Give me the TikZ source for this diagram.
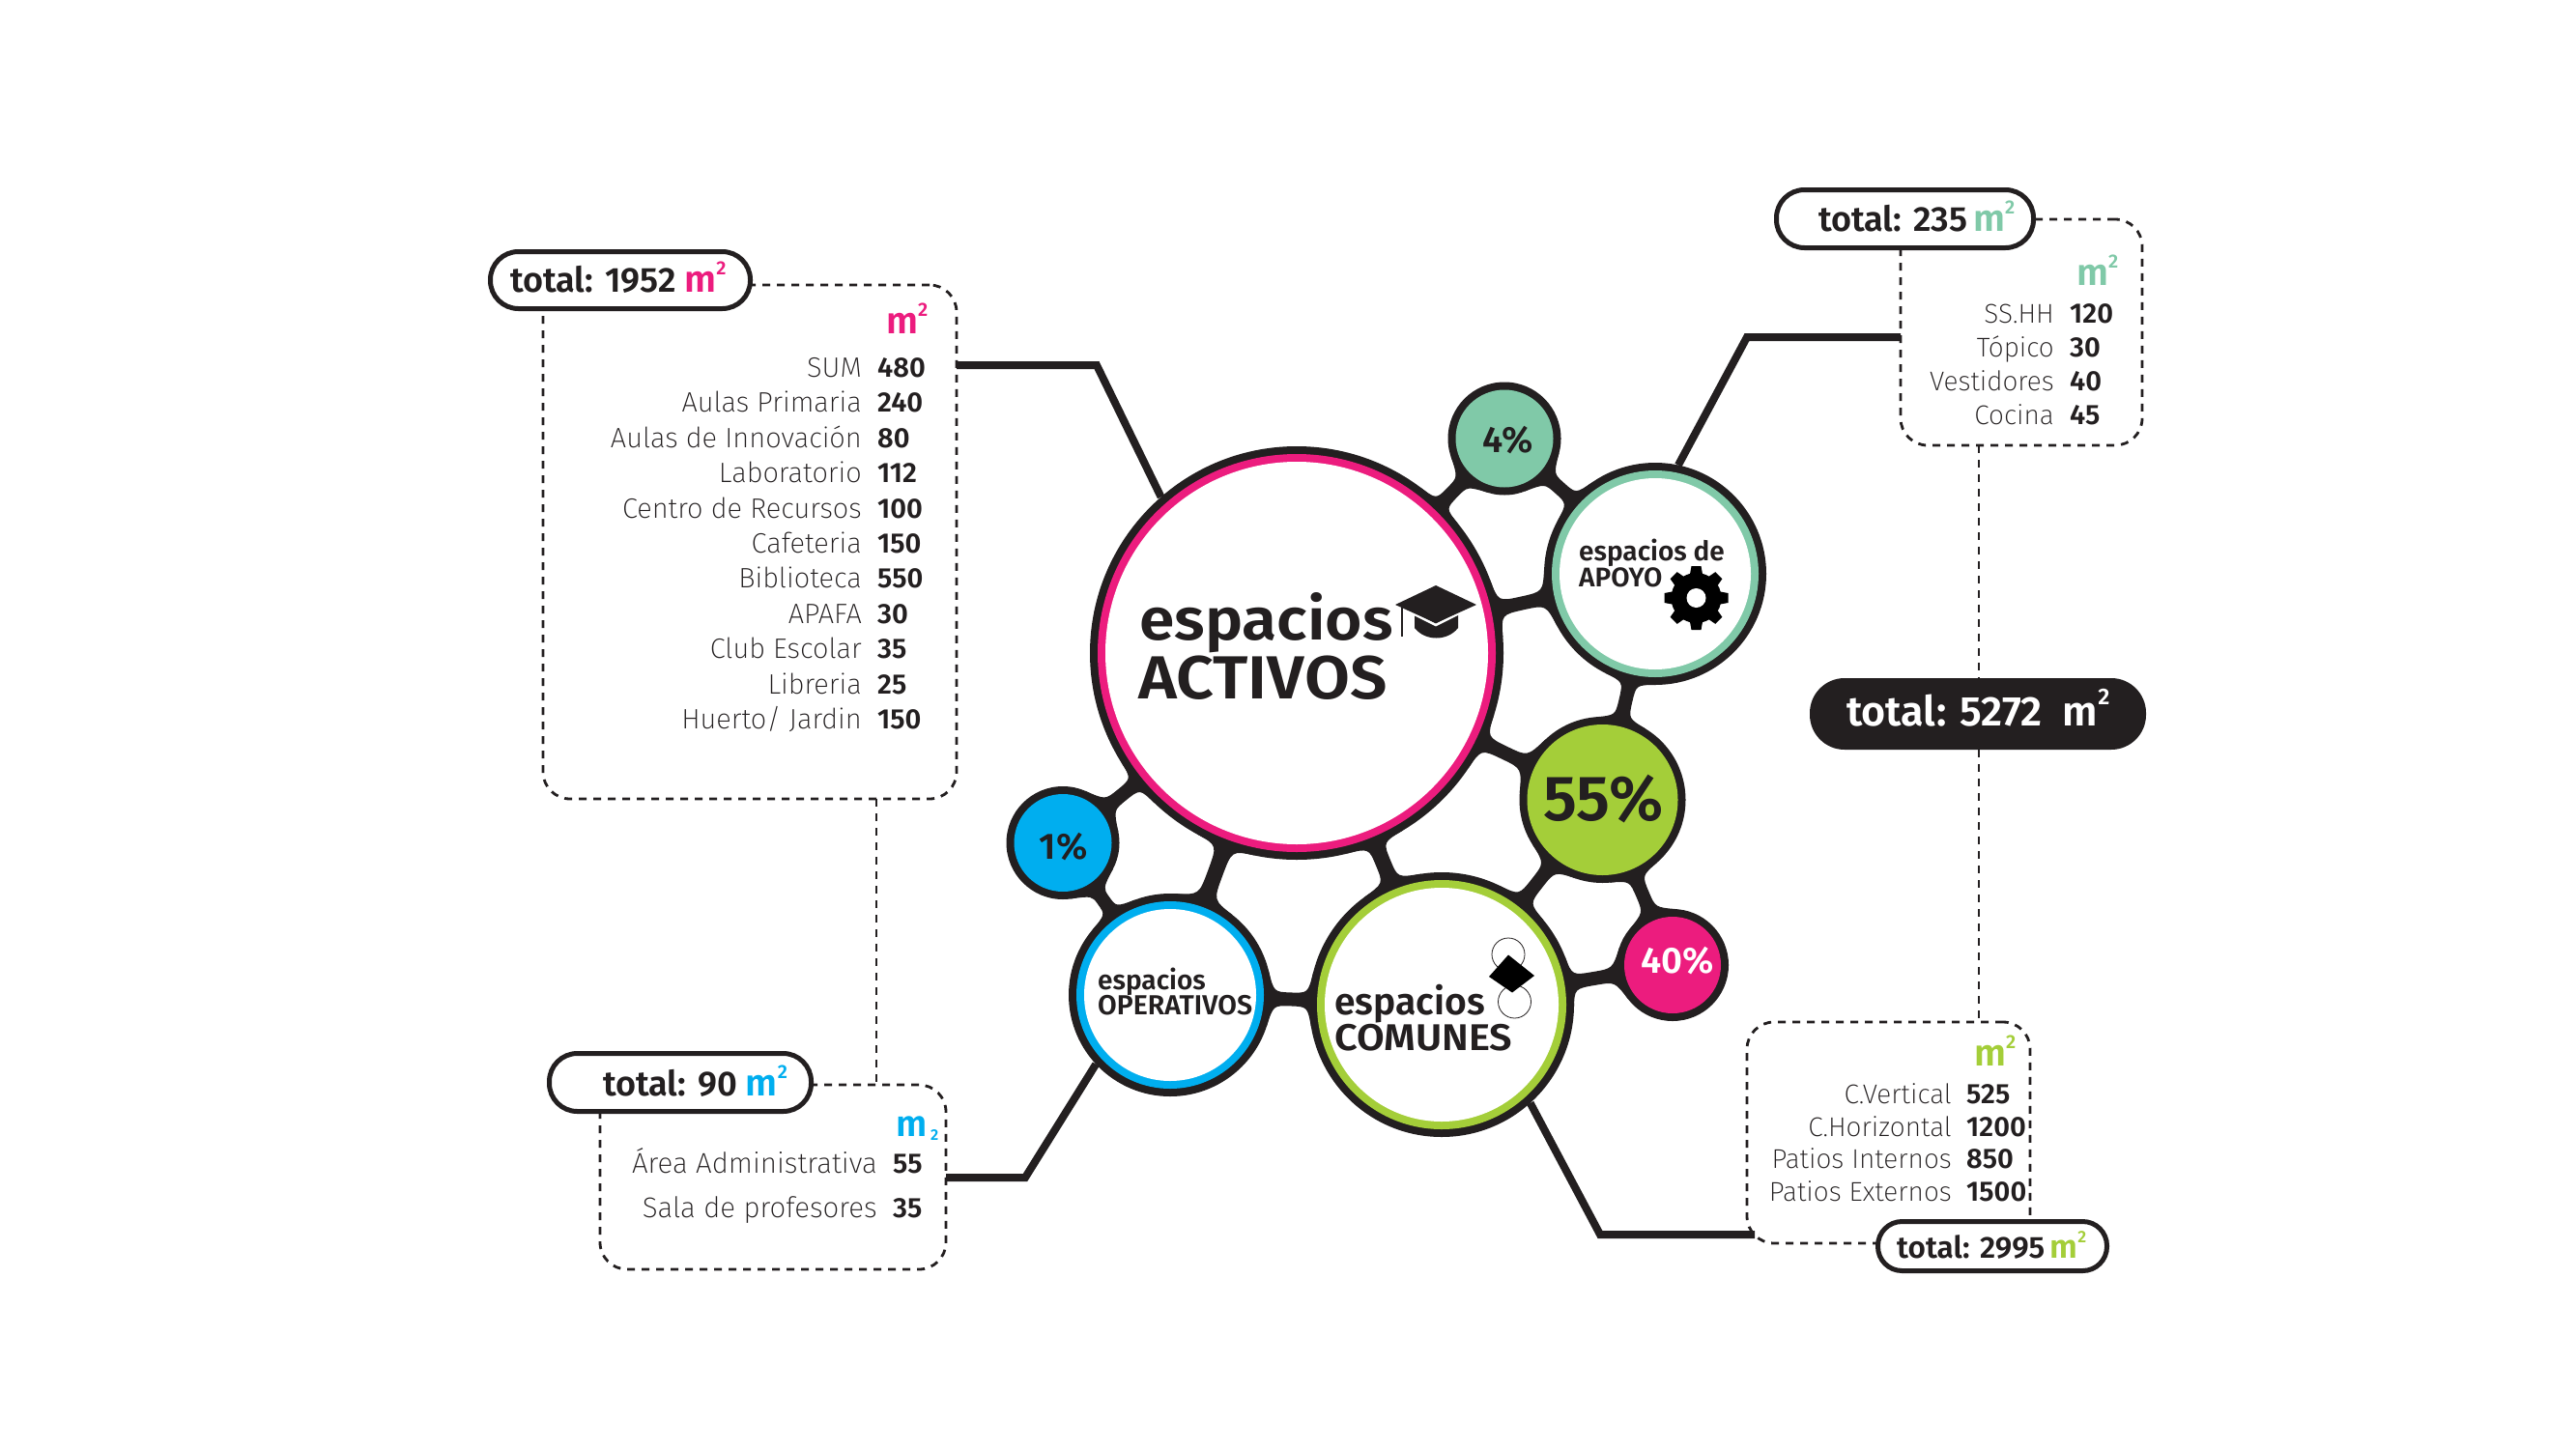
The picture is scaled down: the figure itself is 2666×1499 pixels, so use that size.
\documentclass[tikz,border=0pt]{standalone}
\usepackage{fontspec}
\usepackage{graphicx}
\usetikzlibrary{calc}
\newfontfamily\lightf{Fira Sans ExtraLight}
\newfontfamily\boldf{Fira Sans SemiBold}
\newfontfamily\boldw[FakeStretch=1.08]{Fira Sans SemiBold}
\definecolor{ink}{HTML}{231F20}
\definecolor{cpink}{HTML}{EC1C7E}
\definecolor{cblue}{HTML}{00AEEF}
\definecolor{cgreen}{HTML}{A4CE39}
\definecolor{cteal}{HTML}{80C9A8}
\pgfdeclarelayer{paper}\pgfdeclarelayer{back}\pgfsetlayers{paper,back,main}
\newcommand\sqm[1]{{\color{#1}\scalebox{1.08}{m}\raisebox{.5em}{\scalebox{.55}{2}}}}
\newcommand\fs[1]{\fontsize{#1}{#1}\selectfont}
% bubble: name x y r ring fill
\newcommand\bubble[6]{%
  \node[disc,fill=ink,minimum size=#4*2pt] (#1) at (#2,#3) {};
  \node[disc,fill=#5,minimum size=#4*2pt-16pt] (#1r) at (#1.center) {};
  \node[disc,fill=#6,minimum size=#4*2pt-32pt] (#1i) at (#1.center) {};
}
% neck between two bubbles: a b half-waist flare
\newcommand\neck[4]{%
  \pgfpointanchor{#1}{center}\pgfgetlastxy{\ax}{\ay}%
  \pgfpointanchor{#2}{center}\pgfgetlastxy{\bx}{\by}%
  \pgfpointanchor{#1}{east}\pgfgetlastxy{\aex}{\dum}%
  \pgfpointanchor{#2}{east}\pgfgetlastxy{\bex}{\dum}%
  \pgfmathsetmacro\ra{\aex-\ax}%
  \pgfmathsetmacro\rb{\bex-\bx}%
  \pgfmathsetmacro\tn{atan2(\by-\ay,\bx-\ax)}%
  \pgfmathsetmacro\dd{veclen(\by-\ay,\bx-\ax)}%
  \pgfmathsetmacro\gp{\dd-\ra-\rb}%
  \pgfmathsetmacro\hh{#3+#4}%
  \pgfmathsetmacro\da{asin(\hh/\ra)}%
  \pgfmathsetmacro\db{asin(\hh/\rb)}%
  \pgfmathsetmacro\ea{min(-\ra*(1-cos(\da))+#4*tan(\da),\gp/2)}%
  \pgfmathsetmacro\eb{min(-\rb*(1-cos(\db))+#4*tan(\db),\gp/2)}%
  \pgfmathsetmacro\pu{\ra*cos(\da)}%
  \pgfmathsetmacro\qu{\dd-\rb*cos(\db)}%
  \pgfmathsetmacro\cua{\ra+\ea}%
  \pgfmathsetmacro\mu{\ra+\gp/2}%
  \pgfmathsetmacro\cub{\dd-\rb-\eb}%
  \begin{pgfonlayer}{back}
  \fill[ink,shift={(\ax,\ay)},rotate=\tn]
    (\pu pt,\hh pt) .. controls (\cua pt,#3pt) .. (\mu pt,#3pt)
    .. controls (\cub pt,#3pt) .. (\qu pt,\hh pt)
    -- (\qu pt,-\hh pt) .. controls (\cub pt,-#3pt) .. (\mu pt,-#3pt)
    .. controls (\cua pt,-#3pt) .. (\pu pt,-\hh pt) -- cycle;
  \end{pgfonlayer}
}
\tikzset{
  disc/.style={circle,inner sep=0pt,outer sep=0pt,draw=none},
  lab/.style={font=\lightf\fs{29},anchor=base east,inner sep=0pt,text=ink},
  laba/.style={lab,font=\lightf\fs{28}},
  num/.style={font=\boldf\fs{29},anchor=base west,inner sep=0pt,text=ink},
  unit/.style={font=\boldf\fs{36},anchor=base west,inner sep=0pt},
  ttl/.style={font=\boldf\fs{36},anchor=base west,inner sep=0pt,text=ink},
  head/.style={font=\boldf\fs{#1},anchor=base west,inner sep=0pt,text=ink},
  pct/.style={font=\boldf\fs{#1},anchor=base,inner sep=0pt,text=ink},
  pill/.style={draw=ink,line width=5pt,fill=white,rounded corners=29pt,inner sep=0pt,outer sep=0pt},
  dbox/.style={draw=ink,line width=2.8pt,dash pattern=on 8pt off 7pt,rounded corners=28pt,inner sep=0pt,outer sep=0pt},
  dline/.style={draw=ink,line width=2.8pt,dash pattern=on 8pt off 7pt},
  leader/.style={draw=ink,line width=8pt,line join=miter},
  iconthin/.style={draw=ink,line width=.8pt,fill=white},
}
\begin{document}
\begin{tikzpicture}[x=1pt,y=-1pt]
\useasboundingbox (0,0) rectangle (2666,1499);
\begin{pgfonlayer}{paper}
\fill[white] (0,0) rectangle (2666,1499);
\end{pgfonlayer}
% dashed boxes
\node[dbox,minimum width=428pt,minimum height=532pt] (boxA) at (776,561) {};
\node[dbox,minimum width=250pt,minimum height=234pt] (boxB) at (2092,344) {};
\node[dbox,minimum width=293pt,minimum height=229pt] (boxC) at (1954.5,1172.5) {};
\node[dbox,minimum width=358pt,minimum height=191pt] (boxD) at (800,1218.5) {};
\coordinate (jl) at (907,900);
\coordinate (jr) at (2048,900);
\draw[dline] (jl |- boxA.south) -- (jl |- boxD.north);
\draw[dline] (jr |- boxB.south) -- (jr |- boxC.north);
% bubbles
\bubble{act}{1342}{676}{214}{cpink}{white}
\bubble{apo}{1713}{594}{115}{cteal}{white}
\bubble{com}{1492}{1040}{137}{cgreen}{white}
\bubble{ope}{1211}{1030}{105}{cblue}{white}
\node[disc,fill=ink,minimum size=117pt] (p4) at (1557,454) {};
\node[disc,fill=cteal,minimum size=101pt] (p4i) at (p4.center) {};
\node[disc,fill=ink,minimum size=172pt] (p55) at (1658.5,828) {};
\node[disc,fill=cgreen,minimum size=156pt] (p55i) at (p55.center) {};
\node[disc,fill=ink,minimum size=116pt] (p40) at (1731,999) {};
\node[disc,fill=cpink,minimum size=100pt] (p40i) at (p40.center) {};
\node[disc,fill=ink,minimum size=117pt] (p1) at (1100,872.5) {};
\node[disc,fill=cblue,minimum size=101pt] (p1i) at (p1.center) {};
% necks
\neck{act}{p4}{7}{20}
\neck{apo}{p4}{7}{20}
\neck{act}{apo}{7}{24}
\neck{act}{p55}{7}{24}
\neck{apo}{p55}{7}{20}
\neck{p55}{com}{7}{22}
\neck{p55}{p40}{7}{20}
\neck{com}{p40}{7}{20}
\neck{act}{com}{8}{24}
\neck{act}{ope}{8}{24}
\neck{ope}{com}{7}{22}
\neck{act}{p1}{7}{20}
\neck{p1}{ope}{7}{20}
% leaders
\coordinate (la) at (1135,378);
\coordinate (lb) at (1808,349);
\coordinate (lc) at (1656,1278);
\coordinate (ld) at (1061,1219);
\begin{pgfonlayer}{back}
\draw[leader] (boxA.east |- la) -- (la) -- (act.131);
\draw[leader] (boxB.west |- lb) -- (lb) -- (apo.78);
\draw[leader] ($(boxC.west |- lc)+(8,0)$) -- (lc) -- (com.-48);
\draw[leader] (boxD.east |- ld) -- (ld) -- (ope.223);
\end{pgfonlayer}
% bubble texts
\node[head=61,font=\boldw\fs{61}] (t1) at (1179,662) {espacios};
\node[head=63,font=\boldw\fs{63}] (t2) at (1178,723) {ACTIVOS};
\node[head=28] (t3) at (1634,580) {espacios de};
\node[head=28] (t4) at (1634,607) {APOYO};
\node[head=28] (t5) at (1136,1024) {espacios};
\node[head=28.5] (t6) at (1136,1050) {OPERATIVOS};
\node[head=39] (t7) at (1381,1050) {espacios};
\node[head=39,font=\boldw\fs{38.5}] (t8) at (1381,1087) {COMUNES};
\node[pct=66] (t9) at (1659.5,849) {55\%};
\node[pct=38] (t10) at (1560.5,468) {4\%};
\node[pct=38,text=white] (t11) at (1736,1007) {40\%};
\node[pct=38] (t12) at (1100.5,889) {1\%};
% icons
\fill[ink] (1464,634) -- (1464,650) .. controls (1475,664) and (1498,664) .. (1509,650) -- (1509,634) -- cycle;
\draw[white,line width=2.5pt,fill=ink] (1486,606) -- (1528,626) -- (1486,647) -- (1444,626) -- cycle;
\fill[ink] (1486,606) -- (1528,626) -- (1486,645) -- (1444,626) -- cycle;
\draw[ink,line width=2pt] (1451,629) -- (1451,659);
\foreach \a in {0,45,...,315}{
  \fill[black,shift={(1755.5,619)},rotate=\a] (-7pt,22pt) -- (-5pt,33pt) -- (5pt,33pt) -- (7pt,22pt) -- cycle;
}
\fill[black] (1755.5,619) circle[radius=26pt];
\fill[white] (1755.5,619) circle[radius=10pt];
\draw[iconthin] (1561,988) circle[radius=17pt];
\draw[iconthin] (1567.5,1037) circle[radius=17pt];
\fill[black] (1561,988.5) -- (1588,1010) -- (1565,1027.5) -- (1541,1011) -- cycle;
% box A
\node[pill,minimum width=269pt,minimum height=59pt] (pa) at (642,290) {};
\node[ttl] (pat) at (528,302.5) {total: 1952 \sqm{cpink}};
\node[unit] (au) at (917,345) {\sqm{cpink}};
\foreach \i/\l/\n [count=\k from 0] in {a/SUM/480,b/Aulas Primaria/240,c/Aulas de Innovación/80,d/Laboratorio/112,e/Centro de Recursos/100,f/Cafeteria/150,g/Biblioteca/550,h/APAFA/30,i/Club Escolar/35,j/Libreria/25,k/{Huerto/ Jardin}/150}{
  \node[lab] (al\i) at (892,390.5+36.4*\k) {\l};
  \node[num] (an\i) at (908,390.5+36.4*\k) {\n};
}
% box B
\node[pill,minimum width=266pt,minimum height=60pt] (pb) at (1971.5,226.5) {};
\node[ttl] (pbt) at (1882,239) {total: 235\,\sqm{cteal}};
\node[unit] (bu) at (2149,295) {\sqm{cteal}};
\node[laba] (bl1) at (2126,334) {SS.HH}; \node[num] (bn1) at (2142,334) {120};
\node[laba] (bl2) at (2126,369) {Tópico}; \node[num] (bn2) at (2142,369) {30};
\node[laba] (bl3) at (2126,404) {Vestidores}; \node[num] (bn3) at (2142,404) {40};
\node[laba] (bl4) at (2126,439) {Cocina}; \node[num] (bn4) at (2142,439) {45};
% box C
\node[pill,minimum width=237pt,minimum height=51pt,rounded corners=25pt] (pc) at (2062,1290) {};
\node[ttl,font=\boldf\fs{31.5}] (pct) at (1963,1302) {total: 2995\,\sqm{cgreen}};
\node[unit] (cu) at (2043,1103) {\sqm{cgreen}};
\node[laba] (cl1) at (2020,1142) {C.Vertical}; \node[num] (cn1) at (2035,1142) {525};
\node[laba] (cl2) at (2020,1176) {C.Horizontal}; \node[num] (cn2) at (2035,1176) {1200};
\node[laba] (cl3) at (2020,1209) {Patios Internos}; \node[num] (cn3) at (2035,1209) {850};
\node[laba] (cl4) at (2020,1243) {Patios Externos}; \node[num] (cn4) at (2035,1243) {1500};
% box D
\node[pill,minimum width=271pt,minimum height=60pt] (pd) at (704,1120.5) {};
\node[ttl] (pdt) at (624,1134) {total: 90 \sqm{cblue}};
\node[unit,font=\boldf\fs{38}] (du) at (927,1176) {\color{cblue}m};
\node[unit,font=\boldf\fs{16},text=cblue] (du2) at (963,1180) {2};
\node[lab,font=\lightf\fs{29.5}] (dl1) at (908,1214) {Área Administrativa}; \node[num] (dn1) at (924,1214) {55};
\node[lab,font=\lightf\fs{29.5}] (dl2) at (908,1260) {Sala de profesores}; \node[num] (dn2) at (924,1260) {35};
% centre pill
\node[disc,rectangle,fill=ink,minimum width=348pt,minimum height=74pt,rounded corners=36pt] (pe) at (2047,739) {};
\node[ttl,text=white,font=\boldf\fs{43}] (pet) at (1911,751) {total: 5272\hspace{.5em}m\raisebox{.5em}{\scalebox{.55}{2}}};
\end{tikzpicture}
\end{document}
